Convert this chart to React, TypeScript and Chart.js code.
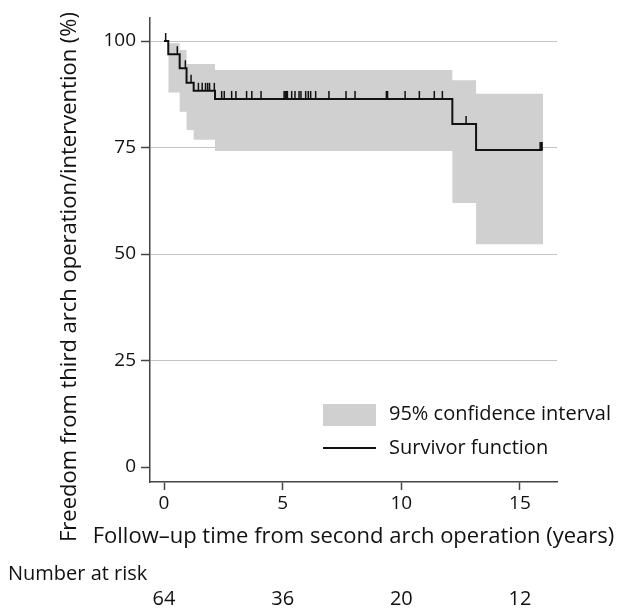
import React, { useEffect, useRef } from "react";
import { Chart, registerables } from "chart.js";

Chart.register(...registerables);

// Kaplan–Meier survivor function (step changes at event times)
const eventTimes = [0, 0.18, 0.66, 0.95, 1.25, 2.15, 12.15, 13.15, 15.95];
const survival = [100, 96.9, 93.6, 90.2, 88.3, 86.4, 80.5, 74.4, 74.4];

// 95% confidence interval
const ciTimes = [0.18, 0.66, 0.95, 1.25, 2.15, 12.15, 13.15, 15.97];
const ciUpper = [99.5, 97.9, 94.6, 94.6, 93.2, 90.8, 87.6, 87.6];
const ciLower = [87.9, 83.4, 79.1, 76.8, 74.2, 62.0, 52.3, 52.3];

// Censoring times (tick marks)
const censorTimes = [
  0.07, 0.56, 0.9, 1.14, 1.45, 1.61, 1.75, 1.84, 1.92, 2.12, 2.43, 2.54, 2.85,
  3.03, 3.48, 3.7, 4.09, 5.06, 5.11, 5.17, 5.2, 5.38, 5.52, 5.69, 5.77, 5.97,
  6.08, 6.18, 6.39, 6.95, 7.67, 8.05, 9.37, 9.42, 10.16, 10.76, 11.39, 11.73,
  12.73, 15.85, 15.9, 15.93,
];

const xTicks = [0, 5, 10, 15];
const yTicks = [0, 25, 50, 75, 100];
const riskTimes = [0, 5, 10, 15];
const numberAtRisk = [64, 36, 20, 12];

const yTitle = "Freedom from third arch operation/intervention (%)";
const xTitle = "Follow\u2013up time from second arch operation (years)";
const legendLabels = ["95% confidence interval", "Survivor function"];

const FONT = "'Open Sans', sans-serif";
const TEXT = "#111";
const CI_COLOR = "#d0d0d0";

function survivalAt(t: number): number {
  let v = survival[0];
  for (let i = 0; i < eventTimes.length; i++) {
    if (eventTimes[i] <= t) v = survival[i];
  }
  return v;
}

export default function App() {
  const ref = useRef<HTMLCanvasElement | null>(null);

  useEffect(() => {
    if (!ref.current) return;

    const textPlugin = {
      id: "texts",
      afterDraw(chart: any) {
        const ctx = chart.ctx as CanvasRenderingContext2D;
        const xs = chart.scales.x;
        ctx.save();
        ctx.fillStyle = TEXT;
        ctx.textBaseline = "middle";

        // Y title
        ctx.save();
        ctx.translate(70, 277);
        ctx.rotate(-Math.PI / 2);
        ctx.textAlign = "center";
        ctx.font = `22px ${FONT}`;
        ctx.fillText(yTitle, 0, 0);
        ctx.restore();

        // X title
        ctx.textAlign = "center";
        ctx.font = `22px ${FONT}`;
        ctx.fillText(xTitle, (chart.chartArea.left + chart.chartArea.right) / 2, 537);

        // Legend
        ctx.fillStyle = CI_COLOR;
        ctx.fillRect(323, 404, 53, 22);
        ctx.strokeStyle = "#111";
        ctx.lineWidth = 2;
        ctx.beginPath();
        ctx.moveTo(323, 448);
        ctx.lineTo(376, 448);
        ctx.stroke();
        ctx.fillStyle = TEXT;
        ctx.textAlign = "left";
        ctx.font = `20px ${FONT}`;
        ctx.fillText(legendLabels[0], 389, 414);
        ctx.fillText(legendLabels[1], 389, 448);

        // Number at risk
        ctx.textAlign = "left";
        ctx.fillText("Number at risk", 8, 574);
        ctx.textAlign = "center";
        riskTimes.forEach((t, i) => {
          ctx.fillText(String(numberAtRisk[i]), xs.getPixelForValue(t), 599);
        });
        ctx.restore();
      },
    };

    const chart = new Chart(ref.current, {
      type: "line",
      data: {
        datasets: [
          {
            label: "censored",
            data: censorTimes.map((t) => ({ x: t, y: survivalAt(t) })),
            showLine: false,
            pointStyle: "dash",
            rotation: -90,
            pointRadius: 8,
            borderColor: "#111",
            borderWidth: 1.5,
            backgroundColor: "#111",
            order: 0,
          },
          {
            label: "Survivor function",
            data: eventTimes.map((t, i) => ({ x: t, y: survival[i] })),
            stepped: true,
            borderColor: "#111",
            borderWidth: 2,
            pointRadius: 0,
            fill: false,
            order: 1,
          },
          {
            label: "upper",
            data: ciTimes.map((t, i) => ({ x: t, y: ciUpper[i] })),
            stepped: true,
            borderWidth: 0,
            pointRadius: 0,
            fill: false,
            backgroundColor: CI_COLOR,
            order: 2,
          },
          {
            label: "lower",
            data: ciTimes.map((t, i) => ({ x: t, y: ciLower[i] })),
            stepped: true,
            borderWidth: 0,
            pointRadius: 0,
            fill: "-1",
            backgroundColor: CI_COLOR,
            order: 3,
          },
        ],
      },
      options: {
        responsive: false,
        animation: false,
        devicePixelRatio: 1,
        layout: { padding: { left: 0, right: 60, top: 18, bottom: 0 } },
        plugins: {
          legend: { display: false },
          tooltip: { enabled: false },
        },
        scales: {
          x: {
            type: "linear",
            min: -0.59,
            max: 16.56,
            afterFit: (s: any) => {
              s.height = 126;
            },
            afterBuildTicks: (s: any) => {
              s.ticks = xTicks.map((v) => ({ value: v }));
            },
            ticks: {
              color: TEXT,
              font: { family: FONT, size: 19 },
              padding: 2,
              maxRotation: 0,
              autoSkip: false,
            },
            grid: {
              drawOnChartArea: false,
              drawTicks: true,
              tickLength: 8,
              tickColor: "#444",
              tickWidth: 1.5,
            },
            border: { display: true, color: "#444", width: 1.5 },
          },
          y: {
            type: "linear",
            min: -3.5,
            max: 105.4,
            afterFit: (s: any) => {
              s.width = 150;
            },
            afterBuildTicks: (s: any) => {
              s.ticks = yTicks.map((v) => ({ value: v }));
            },
            ticks: {
              color: TEXT,
              font: { family: FONT, size: 19 },
              padding: 5,
              autoSkip: false,
            },
            grid: {
              drawOnChartArea: true,
              drawTicks: true,
              tickLength: 9,
              color: (c: any) => (c.tick && c.tick.value === 0 ? "rgba(0,0,0,0)" : "#c4c4c4"),
              lineWidth: 1,
              tickColor: "#444",
              tickWidth: 1.5,
            },
            border: { display: true, color: "#444", width: 1.5 },
          },
        },
      },
      plugins: [textPlugin],
    } as any);

    return () => chart.destroy();
  }, []);

  return (
    <div style={{ position: "absolute", left: 0, top: 0, width: 617, height: 608, background: "#fff" }}>
      <canvas ref={ref} width={617} height={608} style={{ width: 617, height: 608, display: "block" }} />
    </div>
  );
}
